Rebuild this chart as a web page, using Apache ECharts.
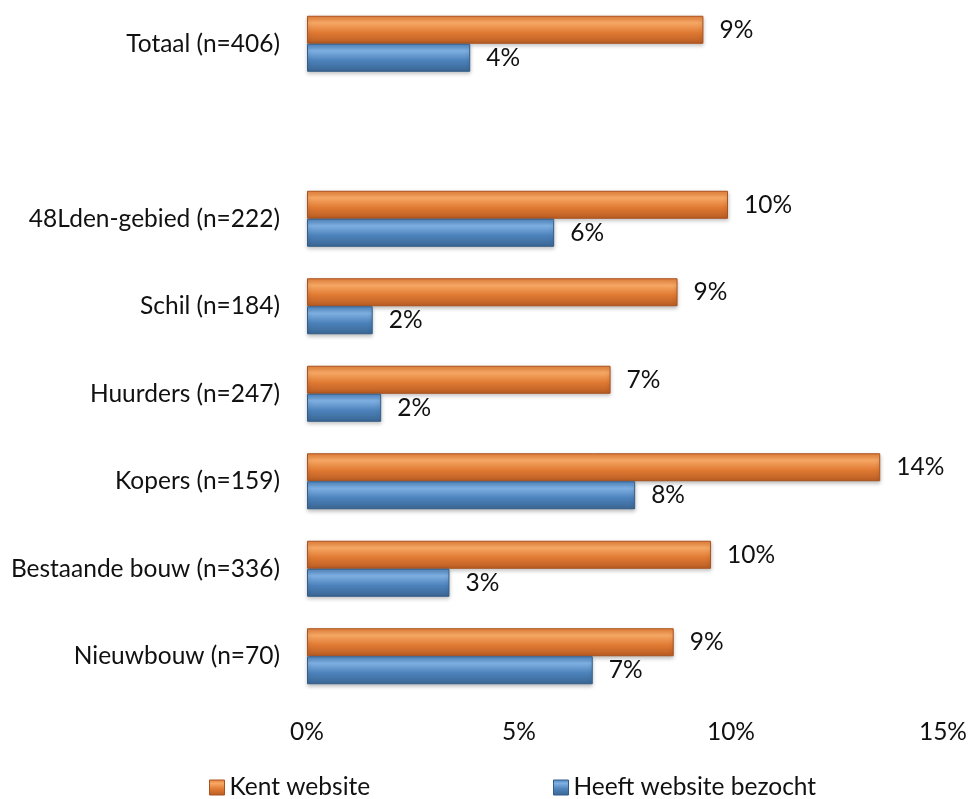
<!DOCTYPE html>
<html><head><meta charset="utf-8">
<script src="https://cdn.jsdelivr.net/npm/echarts@6/dist/echarts.min.js"></script>
<style>html,body{margin:0;padding:0;background:#fff}#c{width:970px;height:799px}</style>
</head><body><div id="c"></div>
<script>
const categories = ['Totaal (n=406)', '', '48Lden-gebied (n=222)', 'Schil (n=184)', 'Huurders (n=247)', 'Kopers (n=159)', 'Bestaande bouw (n=336)', 'Nieuwbouw (n=70)'];
const kentWebsite = [9.35, null, 9.93, 8.74, 7.16, 13.52, 9.53, 8.65];
const heeftBezocht = [3.85, null, 5.83, 1.55, 1.75, 7.74, 3.36, 6.74];
const xTicks = [0, 5, 10, 15];
const seriesNames = ['Kent website', 'Heeft website bezocht'];

const FONT = 'Lato';
const FS = 24.5;
const chart = echarts.init(document.getElementById('c'), null, {renderer: 'canvas'});
function grad(c1, c2, c3, c4) {
  return new echarts.graphic.LinearGradient(0, 0, 0, 1, [
    {offset: 0, color: c1}, {offset: 0.25, color: c2}, {offset: 0.6, color: c3}, {offset: 1, color: c4}
  ]);
}
const orange = grad('#e8803a', '#f6a865', '#e07a33', '#b85c24');
const blue = grad('#4f86c0', '#7fb0e2', '#4c82bb', '#3a6693');
const lbl = {show: true, position: 'right', distance: 16, fontFamily: FONT, fontSize: FS, color: '#111',
  formatter: p => p.value == null ? '' : Math.round(p.value) + '%'};
const legendBase = {top: 770, itemWidth: 15, itemHeight: 15, itemGap: 10,
  textStyle: {fontFamily: FONT, fontSize: FS, color: '#111'}};
chart.setOption({
  animation: false,
  grid: {left: 307, right: 13, top: 0, bottom: 99, containLabel: false},
  legend: [
    Object.assign({}, legendBase, {left: 204, data: [{name: seriesNames[0], icon: 'rect', itemStyle: {color: grad('#e8803a', '#f6a865', '#e07a33', '#b85c24'), borderColor: '#a9521e', borderWidth: 1}}]}),
    Object.assign({}, legendBase, {left: 548, data: [{name: seriesNames[1], icon: 'rect', itemStyle: {color: grad('#4f86c0', '#7fb0e2', '#4c82bb', '#3a6693'), borderColor: '#335d88', borderWidth: 1}}]})
  ],
  xAxis: {type: 'value', min: 0, max: 15, interval: 5,
    axisLine: {show: false}, axisTick: {show: false}, splitLine: {show: false},
    axisLabel: {fontFamily: FONT, fontSize: FS, color: '#111', margin: 20,
      formatter: v => xTicks.includes(v) ? v + '%' : ''}},
  yAxis: {type: 'category', data: categories, inverse: true,
    axisLine: {show: false}, axisTick: {show: false},
    axisLabel: {fontFamily: FONT, fontSize: FS, color: '#111', margin: 27}},
  series: [
    {name: seriesNames[0], type: 'bar', data: kentWebsite, barWidth: 28, barGap: '0%',
      itemStyle: {color: orange, borderColor: '#a9521e', borderWidth: 1, shadowColor: 'rgba(0,0,0,0.25)', shadowBlur: 4, shadowOffsetY: 2},
      label: lbl},
    {name: seriesNames[1], type: 'bar', data: heeftBezocht, barWidth: 28,
      itemStyle: {color: blue, borderColor: '#335d88', borderWidth: 1, shadowColor: 'rgba(0,0,0,0.25)', shadowBlur: 4, shadowOffsetY: 2},
      label: lbl}
  ]
});
</script></body></html>
